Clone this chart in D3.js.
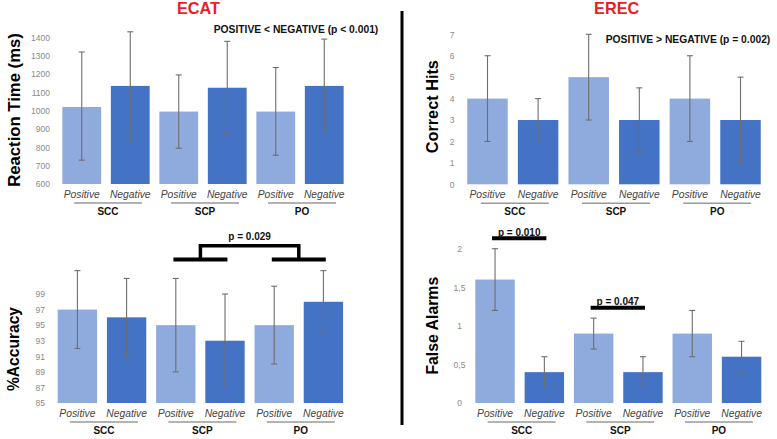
<!DOCTYPE html>
<html>
<head>
<meta charset="utf-8">
<script src="https://d3js.org/d3.v7.min.js"></script>
<style>
  html, body { margin: 0; padding: 0; background: #fff; }
  svg { display: block; font-family: "Liberation Sans", Arial, sans-serif; }
</style>
</head>
<body>
<svg id="chart" width="777" height="439"></svg>
<script>
// ---- data ----
const groups = ["SCC", "SCP", "PO"];
const conditions = ["Positive", "Negative"];

const rtMean = [1020, 1135, 995, 1125, 995, 1135];
const rtLow  = [730, 840, 795, 870, 757, 885];
const rtHigh = [1320, 1430, 1195, 1378, 1235, 1390];
const rtTicks = [600, 700, 800, 900, 1000, 1100, 1200, 1300, 1400];

const hitsMean = [4, 3, 5, 3, 4, 3];
const hitsLow  = [2, 2, 3, 1.5, 2, 1];
const hitsHigh = [6, 4, 7, 4.5, 6, 5];
const hitsTicks = [0, 1, 2, 3, 4, 5, 6, 7];

const accMean = [97, 96, 95, 93, 95, 98];
const accLow  = [92, 91, 89, 87, 90, 94];
const accHigh = [102, 101, 101, 99, 100, 102];
const accTicks = [85, 87, 89, 91, 93, 95, 97, 99];

const faMean = [1.6, 0.4, 0.9, 0.4, 0.9, 0.6];
const faLow  = [1.2, 0.2, 0.7, 0.2, 0.6, 0.4];
const faHigh = [2, 0.6, 1.1, 0.6, 1.2, 0.8];
const faTicks = [0, 0.5, 1, 1.5, 2];

const titles = ["ECAT", "EREC"];
const annotations = ["POSITIVE < NEGATIVE (p < 0.001)", "POSITIVE > NEGATIVE (p = 0.002)"];
const accBracketLabel = "p = 0.029";
const faPairs = [{group: "SCC", label: "p = 0.010"}, {group: "SCP", label: "p = 0.047"}];

// ---- drawing ----
const svg = d3.select("#chart");
const LIGHT = "#8faadc", DARK = "#4472c4";

const keys = [];
groups.forEach(g => conditions.forEach(c => keys.push(g + "|" + c)));

function panel(opt) {
  const rows = keys.map((k, i) => ({
    key: k, group: k.split("|")[0], cond: k.split("|")[1],
    mean: opt.mean[i], lo: opt.lo[i], hi: opt.hi[i]
  }));
  const x = d3.scaleBand().domain(keys).range(opt.xr).paddingInner(0.2).paddingOuter(0.1);
  const y = d3.scaleLinear().domain(opt.yd).range(opt.yr);
  const g = svg.append("g");
  const base = y(opt.yd[0]);

  // tick labels (no axis line/ticks)
  const axis = d3.axisLeft(y).tickValues(opt.ticks).tickSize(0).tickFormat(opt.fmt || d3.format("d"));
  const ax = g.append("g").attr("transform", `translate(${opt.tickX},0)`).call(axis);
  ax.select(".domain").remove();
  ax.selectAll("text")
    .attr("x", 0)
    .attr("font-size", 8.5)
    .attr("font-family", '"Liberation Sans", Arial, sans-serif')
    .attr("fill", "#8a8a8a")
    .attr("text-anchor", opt.tickAnchor || "end");

  // bars
  g.selectAll("rect.bar").data(rows).join("rect")
    .attr("class", "bar")
    .attr("x", d => x(d.key))
    .attr("width", x.bandwidth())
    .attr("y", d => y(d.mean))
    .attr("height", d => base - y(d.mean))
    .attr("fill", d => d.cond === "Positive" ? LIGHT : DARK);

  // error bars
  const eb = g.selectAll("g.err").data(rows).join("g").attr("class", "err")
    .attr("stroke", "#6e6e6e").attr("stroke-width", 1.1);
  eb.append("line")
    .attr("x1", d => x(d.key) + x.bandwidth() / 2).attr("x2", d => x(d.key) + x.bandwidth() / 2)
    .attr("y1", d => y(d.lo)).attr("y2", d => y(d.hi));
  [["lo"], ["hi"]].forEach(([f]) => {
    eb.append("line")
      .attr("x1", d => x(d.key) + x.bandwidth() / 2 - 3).attr("x2", d => x(d.key) + x.bandwidth() / 2 + 3)
      .attr("y1", d => y(d[f])).attr("y2", d => y(d[f]));
  });

  // category labels
  g.selectAll("text.cat").data(rows).join("text")
    .attr("class", "cat")
    .attr("x", d => x(d.key) + x.bandwidth() / 2)
    .attr("y", base + 13.7)
    .attr("text-anchor", "middle")
    .attr("font-size", 10.3)
    .attr("font-style", "italic")
    .attr("fill", "#444")
    .text(d => d.cond);

  // group lines + labels
  const gc = grp => (x(grp + "|Positive") + x(grp + "|Negative") + x.bandwidth()) / 2;
  groups.forEach(grp => {
    const c = gc(grp) + 2;
    g.append("line").attr("x1", c - 34).attr("x2", c + 34)
      .attr("y1", base + 19).attr("y2", base + 19)
      .attr("stroke", "#9a9a9a").attr("stroke-width", 1.6);
    g.append("text").attr("x", c).attr("y", base + 30.5)
      .attr("text-anchor", "middle").attr("font-size", 10).attr("font-weight", "bold")
      .attr("fill", "#111").text(grp);
  });

  // y-axis title
  g.append("text")
    .attr("transform", `translate(${opt.titleX},${opt.titleY}) rotate(-90)`)
    .attr("text-anchor", "middle").attr("dy", "0.35em")
    .attr("font-size", opt.titleSize).attr("font-weight", "bold").attr("fill", "#000")
    .text(opt.title);

  return {x, y, g, gc, bw: x.bandwidth()};
}

const p1 = panel({mean: rtMean, lo: rtLow, hi: rtHigh, ticks: rtTicks,
  xr: [57.5, 348.5], yd: [600, 1400], yr: [184, 37.3], tickX: 50,
  title: "Reaction Time (ms)", titleX: 14, titleY: 110, titleSize: 16.7});

const p2 = panel({mean: hitsMean, lo: hitsLow, hi: hitsHigh, ticks: hitsTicks,
  xr: [462.2, 765.8], yd: [0, 7], yr: [184.3, 34.3], tickX: 454.5,
  title: "Correct Hits", titleX: 432, titleY: 106.7, titleSize: 16.3});

const p3 = panel({mean: accMean, lo: accLow, hi: accHigh, ticks: accTicks,
  xr: [52.8, 348], yd: [85, 99], yr: [403, 294], tickX: 45,
  title: "%Accuracy", titleX: 13.5, titleY: 349, titleSize: 15.6});

const p4 = panel({mean: faMean, lo: faLow, hi: faHigh, ticks: faTicks,
  xr: [470.4, 766.2], yd: [0, 2], yr: [403, 248.7], tickX: 459.5, tickAnchor: "middle",
  fmt: d => String(d).replace(".", ","),
  title: "False Alarms", titleX: 432, titleY: 325.7, titleSize: 15.8});

// titles
[[titles[0], 198.5], [titles[1], 616.7]].forEach(([t, cx]) => {
  svg.append("text").attr("x", cx).attr("y", 13.8).attr("text-anchor", "middle")
    .attr("font-size", 16.3).attr("font-weight", "bold").attr("fill", "#ee1c25").text(t);
});

// annotations
svg.append("text").attr("x", 296).attr("y", 33).attr("text-anchor", "middle")
  .attr("font-size", 10.3).attr("font-weight", "bold").attr("fill", "#111").text(annotations[0]);
svg.append("text").attr("x", 688).attr("y", 42.7).attr("text-anchor", "middle")
  .attr("font-size", 10.3).attr("font-weight", "bold").attr("fill", "#111").text(annotations[1]);

// divider
svg.append("line").attr("x1", 402).attr("x2", 402).attr("y1", 11).attr("y2", 425)
  .attr("stroke", "#000").attr("stroke-width", 3);

// accuracy bracket (SCP vs PO)
{
  const a = p3.gc("SCP"), b = p3.gc("PO");
  const top = 245.7, bot = 259.5;
  const path = d3.path();
  path.moveTo(a, bot); path.lineTo(a, top); path.lineTo(b, top); path.lineTo(b, bot);
  svg.append("path").attr("d", path.toString()).attr("fill", "none")
    .attr("stroke", "#000").attr("stroke-width", 3.5);
  [a, b].forEach(c => {
    svg.append("line").attr("x1", c - 27).attr("x2", c + 27).attr("y1", bot).attr("y2", bot)
      .attr("stroke", "#000").attr("stroke-width", 4);
  });
  svg.append("text").attr("x", (a + b) / 2).attr("y", 240.3).attr("text-anchor", "middle")
    .attr("font-size", 10).attr("font-weight", "bold").attr("fill", "#111").text(accBracketLabel);
}

// false alarm pair bars
faPairs.forEach(p => {
  const k1 = p.group + "|Positive", k2 = p.group + "|Negative";
  const x1 = p4.x(k1) + p4.bw / 2 - 3, x2 = p4.x(k2) + p4.bw / 2 + 2;
  const yTop = p4.y(d3.max([faHigh[keys.indexOf(k1)], faHigh[keys.indexOf(k2)]]));
  const yy = yTop - 10.5;
  svg.append("line").attr("x1", x1).attr("x2", x2).attr("y1", yy).attr("y2", yy)
    .attr("stroke", "#000").attr("stroke-width", 4);
  svg.append("text").attr("x", (x1 + x2) / 2).attr("y", yy - 2.5).attr("text-anchor", "middle")
    .attr("font-size", 10).attr("font-weight", "bold").attr("fill", "#111").text(p.label);
});
</script>
</body>
</html>
